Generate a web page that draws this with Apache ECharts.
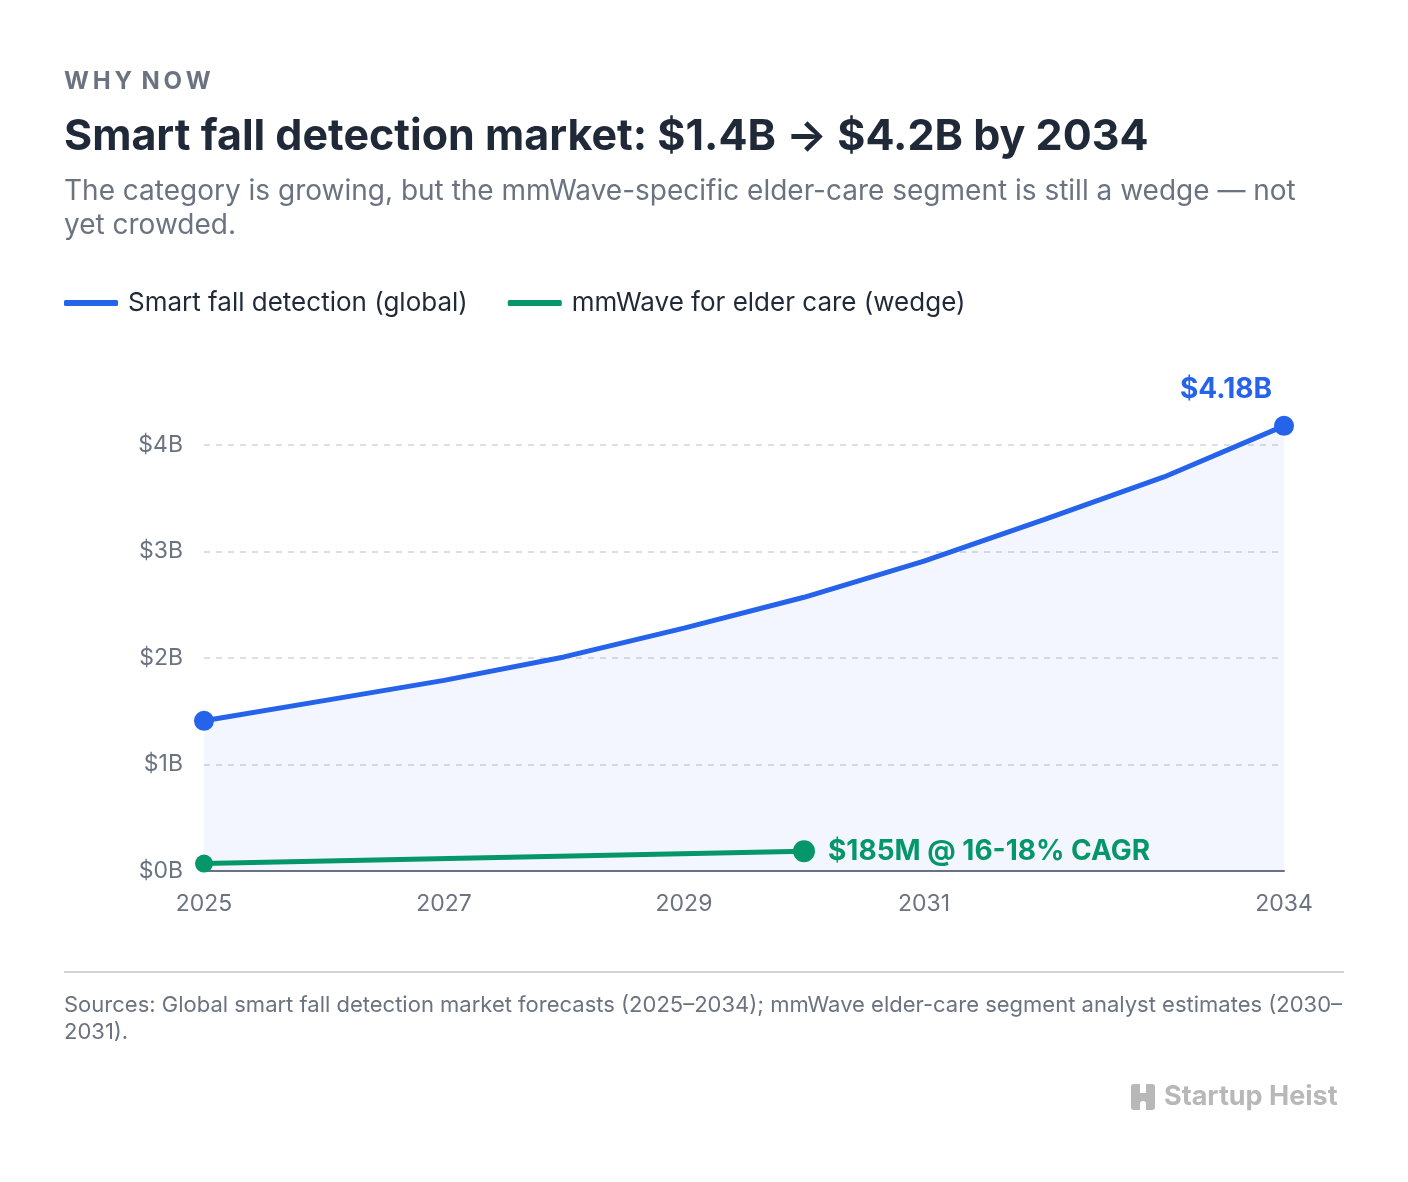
<!DOCTYPE html>
<html>
<head>
<meta charset="utf-8">
<script src="https://cdn.jsdelivr.net/npm/echarts@6/dist/echarts.min.js"></script>
<style>
  html, body { margin: 0; padding: 0; background: #ffffff; }
  #chart { width: 1408px; height: 1182px; }
</style>
</head>
<body>
<div id="chart"></div>
<script>
// Chart data
const years = ["2025", "2026", "2027", "2028", "2029", "2030", "2031", "2032", "2033", "2034"];
const globalMarket = [1.41, 1.6, 1.79, 2.01, 2.28, 2.57, 2.91, 3.3, 3.7, 4.18];
const mmWaveWedge = [0.07, null, null, null, null, 0.185, null, null, null, null];
const shownYearIdx = [0, 2, 4, 6, 9];
const yTicks = { min: 0, max: 4.5, interval: 1 };
const globalLabel = "$4.18B";
const wedgeLabel = "$185M @ 16-18% CAGR";

const BLUE = "#2563eb";
const GREEN = "#059669";
const GRAY = "#6b7280";
const DARK = "#1f2937";
const FONT = "Inter, 'Noto Sans', sans-serif";

const chartElem = document.getElementById("chart");
let chart = echarts.init(chartElem, null, { renderer: "canvas" });

const lastIdx = globalMarket.length - 1;
const wedgeLast = 5;

let option = {
  backgroundColor: "#ffffff",
  animation: false,
  textStyle: { fontFamily: FONT },
  legend: {
    left: 64,
    top: 290,
    padding: 0,
    itemWidth: 54,
    itemHeight: 6,
    itemGap: 40,
    icon: "roundRect",
    textStyle: { color: DARK, fontSize: 26, fontFamily: FONT, padding: [0, 0, 0, 5] },
    data: ["Smart fall detection (global)", "mmWave for elder care (wedge)"],
  },
  grid: {
    left: 204,
    right: 124,
    top: 871 - 4.5 * 106.5,
    bottom: 1182 - 871,
  },
  xAxis: {
    type: "category",
    boundaryGap: false,
    data: years,
    axisLine: { show: true, lineStyle: { color: GRAY, width: 2 } },
    axisTick: { show: false },
    axisLabel: {
      color: GRAY,
      fontSize: 23,
      margin: 22,
      fontFamily: FONT,
      interval: function (i) { return shownYearIdx.indexOf(i) >= 0; },
    },
    splitLine: { show: false },
  },
  yAxis: {
    type: "value",
    min: yTicks.min,
    max: yTicks.max,
    interval: yTicks.interval,
    axisLine: { show: false },
    axisTick: { show: false },
    axisLabel: {
      color: GRAY,
      fontSize: 23,
      margin: 21,
      fontFamily: FONT,
      showMaxLabel: false,
      formatter: function (v) { return "$" + v + "B"; },
    },
    splitLine: {
      show: true,
      showMinLine: false,
      showMaxLine: false,
      lineStyle: { color: "#d1d5db", type: [6, 6], width: 1.5 },
    },
  },
  series: [
    {
      name: "Smart fall detection (global)",
      type: "line",
      color: BLUE,
      data: globalMarket.map(function (v, i) {
        if (i === lastIdx) {
          return {
            value: v,
            label: {
              show: true,
              position: "top",
              offset: [-58, -7],
              formatter: globalLabel,
              color: BLUE,
              fontSize: 28,
              fontWeight: 700,
              fontFamily: FONT,
            },
          };
        }
        return v;
      }),
      symbol: "circle",
      symbolSize: function (v, p) { return p.dataIndex === 0 || p.dataIndex === lastIdx ? 20 : 0; },
      showAllSymbol: true,
      lineStyle: { width: 5, color: BLUE },
      itemStyle: { color: BLUE },
      areaStyle: { color: "rgba(37,99,235,0.08)", origin: "start" },
      z: 3,
    },
    {
      name: "mmWave for elder care (wedge)",
      type: "line",
      color: GREEN,
      connectNulls: true,
      data: mmWaveWedge.map(function (v, i) {
        if (i === wedgeLast) {
          return {
            value: v,
            label: {
              show: true,
              position: "right",
              distance: 13,
              formatter: wedgeLabel,
              color: GREEN,
              fontSize: 28,
              fontWeight: 700,
              fontFamily: FONT,
            },
          };
        }
        return v;
      }),
      symbol: "circle",
      symbolSize: function (v, p) { return p.dataIndex === 0 ? 18 : 22; },
      showAllSymbol: true,
      lineStyle: { width: 5, color: GREEN },
      itemStyle: { color: GREEN },
      z: 4,
    },
  ],
  graphic: [
    {
      type: "text",
      left: 64,
      top: 70,
      style: {
        text: "W\u2009H\u2009Y \u2009N\u2009O\u2009W",
        fill: GRAY,
        font: "700 24px " + FONT,
      },
    },
    {
      type: "text",
      left: 64,
      top: 116,
      style: {
        text: "Smart fall detection market: $1.4B \u2192 $4.2B by 2034",
        fill: DARK,
        font: "700 43px " + FONT,
      },
    },
    {
      type: "text",
      left: 64,
      top: 175,
      style: {
        text: "The category is growing, but the mmWave-specific elder-care segment is still a wedge \u2014 not\nyet crowded.",
        fill: GRAY,
        font: "400 28px " + FONT,
        lineHeight: 34,
      },
    },
    {
      type: "line",
      shape: { x1: 64, y1: 972, x2: 1344, y2: 972 },
      style: { stroke: "#d1d5db", lineWidth: 2 },
    },
    {
      type: "text",
      left: 64,
      top: 992,
      style: {
        text: "Sources: Global smart fall detection market forecasts (2025\u20132034); mmWave elder-care segment analyst estimates (2030\u2013\n2031).",
        fill: GRAY,
        font: "400 22px " + FONT,
        lineHeight: 27,
      },
    },
    {
      type: "group",
      left: 1131,
      top: 1084,
      children: [
        { type: "rect", shape: { x: 0, y: 0, width: 24, height: 26, r: 3 }, style: { fill: "#b8b8b8" } },
        { type: "rect", shape: { x: 9, y: 0, width: 6, height: 9 }, style: { fill: "#ffffff" } },
        { type: "rect", shape: { x: 9, y: 17, width: 6, height: 9, r: [3, 3, 0, 0] }, style: { fill: "#ffffff" } },
      ],
    },
    {
      type: "text",
      left: 1164,
      top: 1083,
      style: {
        text: "Startup Heist",
        fill: "#b8b8b8",
        font: "700 27px " + FONT,
      },
    },
  ],
};

chart.setOption(option);
</script>
</body>
</html>
